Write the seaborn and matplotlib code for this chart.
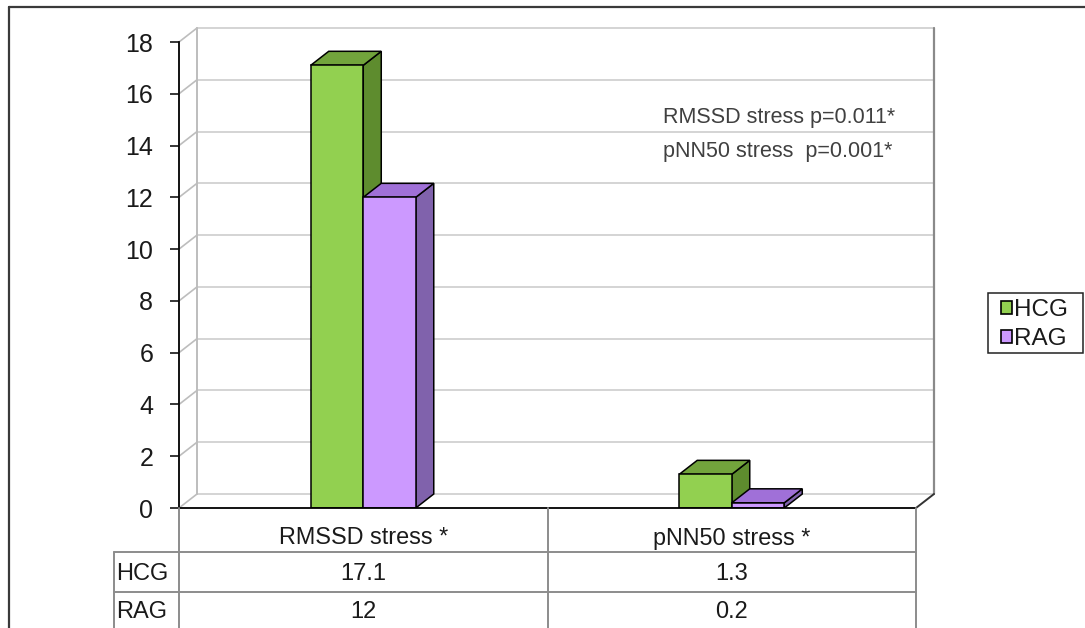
import matplotlib
matplotlib.use("Agg")
import matplotlib.pyplot as plt
from matplotlib.patches import Polygon, Patch, Rectangle
from matplotlib.lines import Line2D
import numpy as np
import pandas as pd
import seaborn as sns

# ---- data -------------------------------------------------------------
categories = ["RMSSD stress *", "pNN50 stress *"]
groups = ["HCG", "RAG"]
hcg_values = [17.1, 1.3]
rag_values = [12, 0.2]
y_ticks = [0, 2, 4, 6, 8, 10, 12, 14, 16, 18]
notes = ["RMSSD stress p=0.011*", "pNN50 stress  p=0.001*"]

# ---- style ------------------------------------------------------------
sns.set_theme(style="white")
plt.rcParams["font.family"] = ["Liberation Sans", "DejaVu Sans"]

front = {"HCG": "#92D050", "RAG": "#CC99FF"}
top_col = {"HCG": "#72A43C", "RAG": "#A070D8"}
side_col = {"HCG": "#5E8C2E", "RAG": "#8062AC"}
grid_col = "#D4D4D4"
table_col = "#8C8C8C"
text_col = "#1A1A1A"

W, H = 1085, 628
fig = plt.figure(figsize=(W / 100, H / 100), dpi=100)
fig.patch.set_facecolor("white")


def fx(px):
    return px / W


def fy(py):
    return 1 - py / H


# plot box: front plane from x=179..916 px, y value 0 at 508 px, top tick at 42 px;
# the back wall is shifted 18 px right and 14 px up
x0_px, x1_px, xb_px = 179, 916, 934
y0_px, ytop_px, yb_px = 508, 42, 28
ax = fig.add_axes([fx(x0_px), fy(y0_px), (xb_px - x0_px) / W, (y0_px - yb_px) / H])
ax.set_facecolor("white")

ymax_val = y_ticks[-1]
ylim_top = ymax_val * (y0_px - yb_px) / (y0_px - ytop_px)
xlim_right = -0.5 + len(categories) * (xb_px - x0_px) / (x1_px - x0_px)
DX = xlim_right - (len(categories) - 0.5)
DY = ylim_top - ymax_val

df = pd.DataFrame({
    "category": categories * 2,
    "group": [groups[0]] * len(categories) + [groups[1]] * len(categories),
    "value": hcg_values + rag_values,
})

sns.barplot(data=df, x="category", y="value", hue="group", hue_order=groups,
            palette=front, saturation=1, width=0.285, gap=0, errorbar=None,
            edgecolor="black", linewidth=1.1, legend=False, ax=ax)

ax.set_xlim(-0.5, xlim_right)
ax.set_ylim(0, ylim_top)

# ---- walls and floor ---------------------------------------------------
xl, xr = -0.5, len(categories) - 0.5
for v in y_ticks:
    ax.add_line(Line2D([xl + DX, xr + DX], [v + DY, v + DY], color=grid_col, lw=1.4,
                       zorder=1, clip_on=False))
    ax.add_line(Line2D([xl, xl + DX], [v, v + DY], color="#BDBDBD", lw=1.2,
                       zorder=1, clip_on=False))
ax.add_line(Line2D([xl + DX, xl + DX], [DY, ymax_val + DY], color="#BDBDBD", lw=1.4,
                   zorder=1, clip_on=False))
ax.add_line(Line2D([xr + DX, xr + DX], [DY, ymax_val + DY], color="#8A8A8A", lw=1.6,
                   zorder=1, clip_on=False))
ax.add_line(Line2D([xr, xr + DX], [0, DY], color="#333333", lw=1.4,
                   zorder=1, clip_on=False))

# ---- 3D faces on the bars ------------------------------------------------
bars = sorted(ax.patches, key=lambda p: p.get_x())
for i, bar in enumerate(bars):
    bx, bw, bh = bar.get_x(), bar.get_width(), bar.get_height()
    grp = groups[0] if np.allclose(bar.get_facecolor()[:3],
                                   matplotlib.colors.to_rgb(front[groups[0]])) else groups[1]
    z = 4 + 3 * i
    top = Polygon([(bx, bh), (bx + DX, bh + DY), (bx + bw + DX, bh + DY), (bx + bw, bh)],
                  closed=True, facecolor=top_col[grp], edgecolor="black", lw=1.1, zorder=z)
    side = Polygon([(bx + bw, 0), (bx + bw + DX, DY), (bx + bw + DX, bh + DY), (bx + bw, bh)],
                   closed=True, facecolor=side_col[grp], edgecolor="black", lw=1.1, zorder=z)
    ax.add_patch(side)
    ax.add_patch(top)
    bar.set_zorder(z + 1)

# ---- axes ----------------------------------------------------------------
for s in ["top", "right"]:
    ax.spines[s].set_visible(False)
ax.spines["left"].set_bounds(0, ymax_val)
ax.spines["bottom"].set_bounds(xl, xr)
for s in ["left", "bottom"]:
    ax.spines[s].set_color("black")
    ax.spines[s].set_linewidth(1.3)
    ax.spines[s].set_zorder(20)
ax.set_yticks(y_ticks)
ax.set_yticklabels([str(v) for v in y_ticks])
ax.tick_params(axis="y", direction="out", length=6.5, width=1.1, pad=12,
               labelsize=18, labelcolor=text_col, color="black", left=True)
ax.set_xticks([])
ax.set_xlabel("")
ax.set_ylabel("")
ax.grid(False)

# ---- notes ---------------------------------------------------------------
for note, ypx in zip(notes, [117, 152]):
    fig.text(fx(663), fy(ypx), note, fontsize=15.5, color="#404040",
             ha="left", va="center")

# ---- data table ------------------------------------------------------------
fig.canvas.draw()


def data_to_figx(xv):
    disp = ax.transData.transform((xv, 0))
    return fig.transFigure.inverted().transform(disp)[0]


col_edges = [data_to_figx(xl + k) for k in range(len(categories) + 1)]
label_left = fx(114)
row_lines = [552, 592]
for xe in col_edges:
    fig.add_artist(Line2D([xe, xe], [fy(y0_px), fy(H + 5)], color=table_col, lw=1.4,
                          transform=fig.transFigure))
for ypx in row_lines:
    fig.add_artist(Line2D([label_left, col_edges[-1]], [fy(ypx), fy(ypx)],
                          color=table_col, lw=1.4, transform=fig.transFigure))
fig.add_artist(Line2D([label_left, label_left], [fy(row_lines[0]), fy(H + 5)],
                      color=table_col, lw=1.4, transform=fig.transFigure))

cat_centers = [data_to_figx(k) for k in range(len(categories))]
for cx, cat in zip(cat_centers, categories):
    fig.text(cx, fy(538), cat, fontsize=16.8, color=text_col, ha="center", va="center")

for ypx, grp, vals in zip([574, 612], groups, [hcg_values, rag_values]):
    fig.text(fx(116), fy(ypx), grp, fontsize=17, color=text_col, ha="left", va="center")
    for cx, v in zip(cat_centers, vals):
        fig.text(cx, fy(ypx), f"{v:g}", fontsize=17, color=text_col,
                 ha="center", va="center")

# ---- legend ----------------------------------------------------------------
handles = [Patch(facecolor=front[g], edgecolor="black", lw=1.2, label=g) for g in groups]
leg = fig.legend(handles=handles, loc="upper left", bbox_to_anchor=(fx(999), fy(297)),
                 bbox_transform=fig.transFigure, fontsize=17.5, frameon=False,
                 handlelength=0.45, handleheight=0.45, handletextpad=0.08,
                 labelspacing=0.28, borderpad=0.1, borderaxespad=0)
for t in leg.get_texts():
    t.set_color(text_col)
fig.add_artist(Rectangle((fx(988), fy(353)), fx(1083) - fx(988), fy(293) - fy(353),
                         transform=fig.transFigure, facecolor="none",
                         edgecolor="#222222", lw=1.1))

# ---- outer frame -------------------------------------------------------------
fig.add_artist(Line2D([fx(9), fx(W)], [fy(7), fy(7)], color="#3A3A3A", lw=1.6,
                      transform=fig.transFigure))
fig.add_artist(Line2D([fx(9), fx(9)], [fy(7), fy(H + 5)], color="#3A3A3A", lw=1.6,
                      transform=fig.transFigure))

fig.savefig("out.png", dpi=100, facecolor="white")
